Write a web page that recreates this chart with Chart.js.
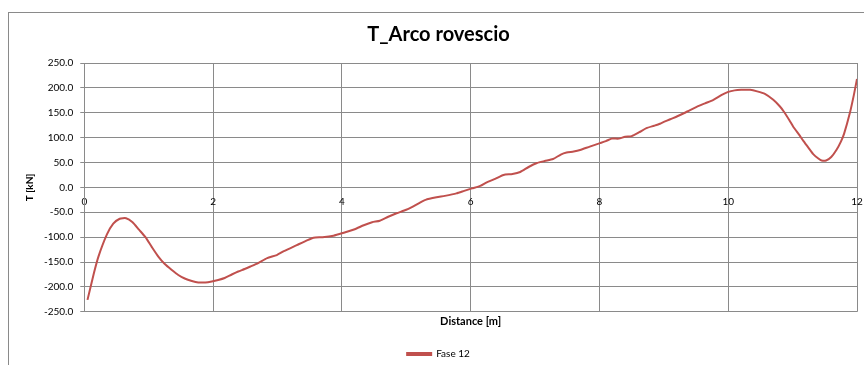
<!DOCTYPE html>
<html lang="it">
  <head>
    <meta charset="UTF-8" />
    <title>T_Arco rovescio</title>
    <style>
      body { margin: 0; background: #fff; }
      .Box { position: relative; width: 864px; height: 365px; }
    </style>
  </head>
  <body>
    <div class="Box">
      <canvas id="lineChart"></canvas>
    </div>
    <script src="https://cdn.jsdelivr.net/npm/chart.js"></script>
    <script>
      // Distance [m] and T [kN]
      const distance = [
        0.05, 0.15, 0.22, 0.35, 0.45, 0.55, 0.65, 0.75, 0.85, 0.95,
        1.05, 1.15, 1.25, 1.36, 1.46, 1.56, 1.67, 1.77, 1.88, 1.98,
        2.08, 2.18, 2.29, 2.39, 2.49, 2.58, 2.70, 2.84, 2.99, 3.10,
        3.30, 3.45, 3.56, 3.70, 3.87, 4.03, 4.20, 4.34, 4.47, 4.59,
        4.72, 4.85, 5.00, 5.11, 5.22, 5.30, 5.47, 5.60, 5.78, 5.90,
        6.02, 6.15, 6.25, 6.38, 6.51, 6.65, 6.77, 6.90, 7.03, 7.15,
        7.28, 7.40, 7.49, 7.60, 7.70, 7.85, 8.01, 8.10, 8.19, 8.30,
        8.40, 8.50, 8.62, 8.73, 8.85, 8.94, 9.10, 9.21, 9.31, 9.40,
        9.51, 9.64, 9.77, 9.90, 10.0, 10.10, 10.20, 10.34, 10.45, 10.57,
        10.70, 10.80, 10.86, 10.95, 11.01, 11.10, 11.17, 11.25, 11.32, 11.40,
        11.45, 11.52, 11.60, 11.68, 11.75, 11.80, 11.89, 11.95, 12.0,
      ];
      const fase12 = [
        -226, -172, -139, -95, -73, -63, -62, -70, -85, -100,
        -120, -139, -154, -166, -176, -183, -188, -191, -191, -189,
        -186, -182, -175, -169, -164, -159, -152, -142, -136, -128,
        -116, -107, -101, -100, -97, -91, -84, -76, -70, -67,
        -59, -52, -45, -38, -30, -25, -20, -17, -12, -7,
        -2, 3, 10, 17, 25, 27, 31, 41, 49, 53,
        57, 66, 70, 72, 75, 82, 89, 93, 98, 98,
        102, 103, 111, 119, 124, 128, 137, 143, 149, 155,
        162, 169, 176, 186, 192, 195, 196, 196, 193, 188,
        176, 163, 153, 135, 122, 106, 93, 79, 67, 58,
        54, 54, 61, 75, 92, 108, 150, 185, 218,
      ];
      const xTicks = [0, 2, 4, 6, 8, 10, 12];
      const yTicks = [-250, -200, -150, -100, -50, 0, 50, 100, 150, 200, 250];

      const gridGrey = "#8a8a8a";
      const textFont = "Lato, 'Open Sans', sans-serif";

      // outer frame of the Excel chart object
      const frame = {
        id: "frame",
        beforeDraw(chart) {
          const ctx = chart.ctx;
          ctx.save();
          ctx.fillStyle = "#fff";
          ctx.fillRect(0, 0, chart.width, chart.height);
          ctx.strokeStyle = "#8a8a8a";
          ctx.lineWidth = 1;
          ctx.strokeRect(8.5, 12.5, 900, 400);
          ctx.restore();
        },
      };

      new Chart(document.getElementById("lineChart"), {
        type: "scatter",
        data: {
          datasets: [
            {
              label: "Fase 12",
              data: distance.map((d, i) => ({ x: d, y: fase12[i] })),
              showLine: true,
              borderColor: "#c0504d",
              backgroundColor: "#c0504d",
              borderWidth: 2,
              pointRadius: 0,
              tension: 0.2,
            },
          ],
        },
        options: {
          responsive: true,
          maintainAspectRatio: false,
          animation: false,
          layout: { padding: { left: 20, right: 7, top: 0, bottom: -4 } },
          plugins: {
            title: {
              display: true,
              text: "T_Arco rovescio",
              color: "#000",
              font: { family: textFont, size: 20, weight: "bold" },
              padding: { top: 23, bottom: 16 },
            },
            legend: {
              position: "bottom",
              labels: {
                boxWidth: 24,
                boxHeight: 2,
                color: "#000",
                font: { family: textFont, size: 10 },
                padding: 10,
              },
            },
            tooltip: { enabled: false },
          },
          scales: {
            x: {
              type: "linear",
              min: 0,
              max: 12,
              position: { y: 0 },
              afterBuildTicks: (s) => { s.ticks = xTicks.map((v) => ({ value: v })); },
              ticks: {
                color: "#000",
                font: { family: textFont, size: 10 },
                padding: 0,
                maxRotation: 0,
              },
              grid: { color: gridGrey, tickLength: 8 },
              border: { color: gridGrey },
            },
            x2: {
              type: "linear",
              position: "bottom",
              min: 0,
              max: 12,
              ticks: { display: false },
              grid: { display: false, drawTicks: false },
              border: { display: false },
              title: {
                display: true,
                text: "Distance [m]",
                color: "#000",
                font: { family: textFont, size: 11, weight: "bold" },
                padding: { top: 3, bottom: 11 },
              },
            },
            y: {
              min: -250,
              max: 250,
              afterBuildTicks: (s) => { s.ticks = yTicks.map((v) => ({ value: v })); },
              ticks: {
                color: "#000",
                font: { family: textFont, size: 10 },
                padding: 7,
                callback: (v) => v.toFixed(1),
              },
              grid: { color: gridGrey, tickLength: 4 },
              border: { color: gridGrey },
              title: {
                display: true,
                text: "T [kN]",
                color: "#000",
                font: { family: textFont, size: 10, weight: "bold" },
                padding: { top: 4, bottom: 1 },
              },
            },
          },
        },
        plugins: [frame],
      });
    </script>
  </body>
</html>
